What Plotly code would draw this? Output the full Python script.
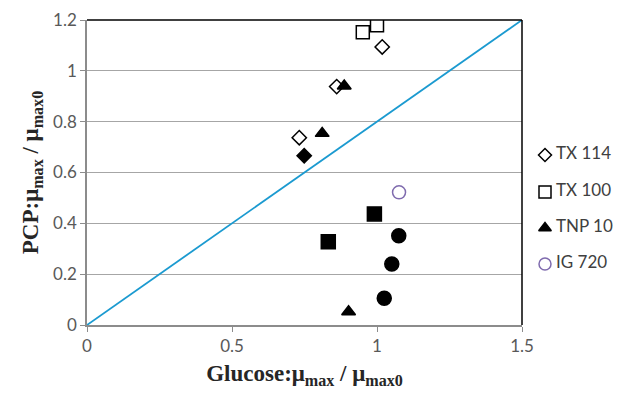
import plotly.graph_objects as go

# TX 114 (open diamonds)
tx114_x = [1.018, 0.861, 0.732]
tx114_y = [1.094, 0.938, 0.737]
# filled diamond (not in legend)
fd_x = [0.749]
fd_y = [0.666]
# TX 100 (open squares)
tx100_x = [0.951, 1.000]
tx100_y = [1.152, 1.179]
# filled squares (not in legend)
fs_x = [0.991, 0.832]
fs_y = [0.437, 0.328]
# TNP 10 (filled triangles)
tnp_x = [0.887, 0.811, 0.902]
tnp_y = [0.940, 0.754, 0.052]
# IG 720 (open circle)
ig_x = [1.076]
ig_y = [0.522]
# filled circles (not in legend)
fc_x = [1.075, 1.051, 1.025]
fc_y = [0.351, 0.240, 0.105]
# diagonal reference line
line_x = [0, 1.5]
line_y = [0, 1.2]
# legend entries
legend_names = ["TX 114", "TX 100", "TNP 10", "IG 720"]

W, H = 624, 393
ML, MR, MT, MB = 87, 2, 20, 68
paper_w = W - ML - MR
plot_right_px = 522
main_dom = (plot_right_px - ML) / paper_w
leg_left_px = 530
leg_dom = (leg_left_px - ML) / paper_w

fig = go.Figure()
fig.add_trace(go.Scatter(x=line_x, y=line_y, mode="lines",
                         line=dict(color="#1B9AD0", width=1.8), showlegend=False))

styles = {
    "TX 114": dict(symbol="diamond", color="white", line=dict(color="black", width=1.5)),
    "TX 100": dict(symbol="square", color="white", line=dict(color="black", width=1.5)),
    "TNP 10": dict(symbol="triangle-up", color="black", line=dict(color="black", width=1.5)),
    "IG 720": dict(symbol="circle", color="white", line=dict(color="#7F6BAE", width=1.5)),
}

def add(x, y, symbol, fill, line_color, size):
    fig.add_trace(go.Scatter(
        x=x, y=y, mode="markers", showlegend=False,
        marker=dict(symbol=symbol, size=size, color=fill,
                    line=dict(color=line_color, width=1.5))))

add(tx114_x, tx114_y, "diamond", "white", "black", 11)
add(tx100_x, tx100_y, "square", "white", "black", 13)
add(tnp_x, tnp_y, "triangle-up", "black", "black", 12)
add(ig_x, ig_y, "circle", "white", "#7F6BAE", 13)
add(fd_x, fd_y, "diamond", "black", "black", 11)
add(fs_x, fs_y, "square", "black", "black", 14)
add(fc_x, fc_y, "circle", "black", "black", 14)

# manual legend in its own hidden axes
leg_y = [0.669, 0.523, 0.382, 0.240]
leg_sizes = {"TX 114": 10, "TX 100": 12, "TNP 10": 11, "IG 720": 12}
for name, yy in zip(legend_names, leg_y):
    st = styles[name]
    fig.add_trace(go.Scatter(
        x=[545], y=[yy], mode="markers", showlegend=False, xaxis="x2", yaxis="y2",
        marker=dict(symbol=st["symbol"], size=leg_sizes[name], color=st["color"], line=st["line"])))
fig.add_trace(go.Scatter(
    x=[556] * len(legend_names), y=leg_y, mode="text", text=legend_names,
    textposition="middle right", showlegend=False, xaxis="x2", yaxis="y2",
    cliponaxis=False,
    textfont=dict(family="Lato, Liberation Sans, sans-serif", size=17, color="#404040")))

title_font = dict(family="Liberation Serif, serif", size=23, color="#262626", weight="bold")

fig.update_layout(
    width=W, height=H,
    margin=dict(l=ML, r=MR, t=MT, b=MB, autoexpand=False),
    plot_bgcolor="white", paper_bgcolor="white",
    font=dict(family="Lato, Liberation Sans, sans-serif", size=17, color="#595959"),
    showlegend=False,
    xaxis=dict(domain=[0, main_dom], range=[0, 1.5], tickvals=[0, 0.5, 1, 1.5],
               ticktext=["0", "0.5", "1", "1.5"], automargin=False,
               showgrid=False, zeroline=False, showline=True, linecolor="#8C8C8C",
               linewidth=1.5, ticks="outside", tickcolor="#8C8C8C", ticklen=5,
               fixedrange=True,
               title=dict(text="Glucose:μ<sub>max</sub> / μ<sub>max0</sub>",
                          font=title_font, standoff=10)),
    yaxis=dict(range=[0, 1.2], tickvals=[0, 0.2, 0.4, 0.6, 0.8, 1, 1.2],
               ticktext=["0", "0.2", "0.4", "0.6", "0.8", "1", "1.2"], automargin=False,
               showgrid=True, gridcolor="#A6A6A6", gridwidth=1,
               zeroline=False, showline=True, linecolor="#8C8C8C",
               linewidth=1.5, ticks="outside", tickcolor="#8C8C8C", ticklen=5,
               fixedrange=True,
               title=dict(text="PCP:μ<sub>max</sub> / μ<sub>max0</sub>",
                          font=title_font, standoff=8)),
    xaxis2=dict(domain=[leg_dom, 1], range=[leg_left_px, W - MR], visible=False,
                fixedrange=True, anchor="y2", automargin=False),
    yaxis2=dict(domain=[0, 1], range=[0, 1.2], visible=False, fixedrange=True,
                anchor="x2", automargin=False),
)
# top and right black borders
fig.add_shape(type="line", xref="x domain", yref="y domain", x0=0, x1=1, y0=1, y1=1,
              line=dict(color="black", width=1.5))
fig.add_shape(type="line", xref="x domain", yref="y domain", x0=1, x1=1, y0=0, y1=1,
              line=dict(color="black", width=1.5))

fig.write_html("out.html")
